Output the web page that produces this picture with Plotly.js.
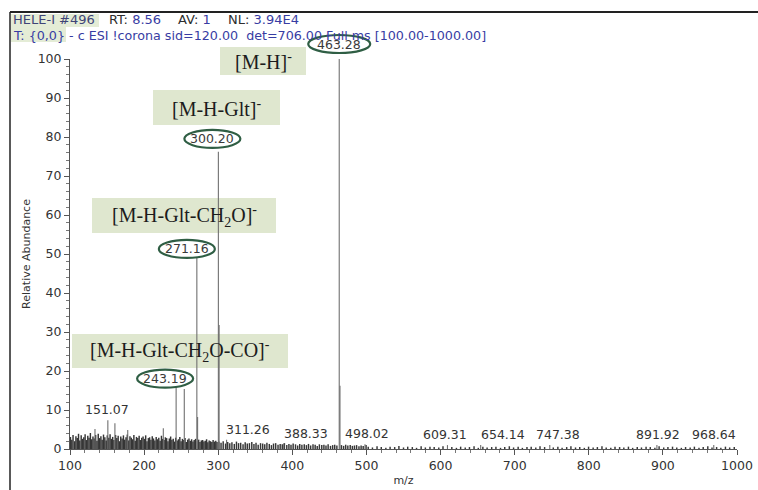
<!DOCTYPE html>
<html>
<head>
<meta charset="utf-8">
<script src="https://cdn.plot.ly/plotly-3.0.1.min.js"></script>
<style>
  html, body { margin: 0; padding: 0; background: #ffffff; }
  #chart { width: 758px; height: 490px; }
</style>
</head>
<body>
<div id="chart"></div>
<script>
// ---- Spectrum data (m/z, relative abundance %) ----
// baseline noise, low-mass region
const noiseMzLow = [
  100.6,102.4,104.1,106.3,108.0,109.8,111.5,113.2,115.1,116.9,
  118.6,120.4,122.2,124.0,125.7,127.5,129.3,131.0,132.8,134.6,
  136.4,138.1,139.9,141.7,143.4,145.2,147.0,148.8,150.3,152.3,
  154.1,155.8,157.6,159.3,161.5,163.2,165.0,166.8,168.5,170.3,
  172.1,173.8,175.6,177.3,179.1,180.9,182.7,184.4,186.2,188.0,
  189.7,191.5,193.3,195.0,196.8,198.6,200.4,202.1,203.9,205.7,
  207.4,209.2,211.0,212.7,214.5,216.3,218.1,219.8,221.6,223.4,
  225.1,226.9,228.7,230.4,232.2,234.0,235.8,237.5,239.3,241.1,
  242.6,244.6,246.4,248.2,249.9,251.7,253.5,255.2,257.0,258.8,
  260.5,262.3,264.1,265.9,267.6,269.4,271.9,273.6,275.4,277.2,
  279.0,280.7,282.5,284.3,286.0,287.8,289.6,291.4,293.1,294.9,
  296.7,298.4
];
const noiseAbLow = [
  3.1,2.4,3.6,2.0,3.3,2.8,3.9,2.2,3.5,2.6,
  3.0,3.8,2.3,3.4,2.9,4.1,2.5,3.2,2.7,3.6,
  2.1,3.9,2.8,3.3,2.4,3.7,3.0,2.2,3.5,2.9,
  3.8,2.6,3.1,2.3,3.6,2.8,3.4,2.0,3.2,2.7,
  3.5,2.4,3.0,3.7,2.2,3.3,2.9,2.5,3.6,2.1,
  3.1,2.8,3.4,2.3,2.9,3.2,2.6,3.5,2.0,2.8,
  3.0,2.4,3.3,2.7,2.2,3.1,2.5,2.9,2.1,3.4,
  2.6,2.3,3.0,2.8,2.0,2.7,3.2,2.4,2.6,1.9,
  2.9,2.2,2.5,3.1,2.0,2.6,2.3,2.8,1.8,2.4,
  2.7,2.1,2.5,1.9,2.3,2.6,2.0,2.4,1.8,2.2,
  2.3,1.9,2.1,2.5,1.7,2.2,2.0,1.8,2.3,1.9,
  2.1,1.8
];
// baseline noise, mid-mass region
const noiseMzMid = [
  300.9,303.8,306.7,309.9,312.8,315.6,318.5,321.7,324.6,327.4,
  330.3,333.5,336.4,339.2,342.1,345.3,348.2,351.0,353.9,357.1,
  360.0,362.8,365.7,368.9,371.8,374.6,377.5,380.7,383.6,386.4,
  389.3,392.5,395.4,398.2,401.1,404.3,407.2,410.0,412.9,416.1,
  419.0,421.8,424.7,427.9,430.8,433.6,436.5,439.7,442.6,445.4,
  448.3,451.5,454.4,457.2,460.1,466.3,469.2,472.0,474.9,478.1,
  481.0,483.8,486.7,489.9,492.8,495.6,499.5
];
const noiseAbMid = [
  1.9,1.6,2.0,1.4,1.8,1.5,1.7,1.3,1.9,1.5,
  1.6,1.2,1.7,1.4,1.5,1.8,1.3,1.6,1.1,1.5,
  1.4,1.2,1.6,1.3,1.0,1.4,1.5,1.1,1.3,1.2,
  1.5,1.0,1.3,1.1,1.4,1.2,0.9,1.3,1.1,1.2,
  1.0,1.3,0.9,1.2,1.1,0.8,1.2,1.0,1.1,0.9,
  1.2,0.8,1.0,1.1,0.9,1.0,0.8,1.1,0.9,1.0,
  0.8,0.9,1.0,0.7,0.9,0.8,1.0
];
// baseline noise, high-mass region
const noiseMzHigh = [
  502.4,508.1,514.3,520.0,526.2,531.9,538.1,543.8,550.0,555.7,
  561.9,567.6,573.8,579.5,585.7,591.4,597.6,603.3,615.2,621.4,
  627.1,633.3,639.0,645.2,650.9,657.1,662.8,669.0,674.7,680.9,
  686.6,692.8,698.5,704.7,710.4,716.6,722.3,728.5,734.2,740.4,
  752.1,758.3,764.0,770.2,775.9,782.1,787.8,794.0,799.7,805.9,
  811.6,817.8,823.5,829.7,835.4,841.6,847.3,853.5,859.2,865.4,
  871.1,877.3,883.0,889.2,894.9,901.1,906.8,913.0,918.7,924.9,
  930.6,936.8,942.5,948.7,954.4,960.6,966.3,972.5,978.2,984.4,
  990.1,996.3
];
const noiseAbHigh = [
  0.6,0.4,0.7,0.5,0.3,0.6,0.5,0.8,0.4,0.6,
  0.5,0.3,0.7,0.4,0.6,0.5,0.4,0.7,0.5,0.3,
  0.6,0.4,0.5,0.7,0.3,0.6,0.4,0.5,0.6,0.3,
  0.5,0.7,0.4,0.6,0.3,0.5,0.6,0.4,0.7,0.5,
  0.4,0.6,0.3,0.5,0.7,0.4,0.5,0.3,0.6,0.4,
  0.5,0.7,0.4,0.3,0.6,0.5,0.4,0.6,0.3,0.5,
  0.4,0.6,0.5,0.3,0.7,0.4,0.5,0.6,0.4,0.3,
  0.5,0.4,0.6,0.3,0.5,0.7,0.4,0.5,0.3,0.6,
  0.4,0.5
];
// distinct peaks
const peakMz = [133.7, 151.07, 160.6, 177.9, 225.9, 243.19, 254.2, 271.16, 272.16,
                300.20, 301.20, 311.26, 388.33, 463.28, 464.28, 498.02, 609.31,
                654.14, 747.38, 891.92, 968.64];
const peakAb = [5.1, 7.4, 6.6, 4.9, 5.3, 16.0, 15.4, 49.0, 8.2,
                76.2, 31.8, 2.4, 1.4, 100, 16.2, 1.2, 1.0,
                1.0, 1.0, 1.0, 1.0];
// peaks carrying a plain m/z label
const labelledMz = [151.07, 311.26, 388.33, 498.02, 609.31, 654.14, 747.38, 891.92, 968.64];
// circled fragment ions and their assignments
const ionMz = [463.28, 300.20, 271.16, 243.19];
const ionNames = [
  '[M-H]<sup>-</sup>',
  '[M-H-Glt]<sup>-</sup>',
  '[M-H-Glt-CH<sub>2</sub>O]<sup>-</sup>',
  '[M-H-Glt-CH<sub>2</sub>O-CO]<sup>-</sup>'
];
// scan header
const headerKeys = ['RT:', 'AV:', 'NL:'];
const headerValues = ['8.56', '1', '3.94E4'];
const headerScan = 'HELE-I #496';
const headerLine2 = 'T: {0,0} - c ESI !corona sid=120.00  det=706.00 Full ms [100.00-1000.00]';

// ---- geometry helpers (plot area: left 70, top 59, 667 x 390 px) ----
const W = 758, H = 490;
const M = { l: 70, r: 21, t: 59, b: 41 };
const PW = W - M.l - M.r, PH = H - M.t - M.b;
const YMAX = 100;
const px = x => (x - M.l) / PW;
const py = y => (H - M.b - y) / PH;
const abOf = mz => peakAb[peakMz.indexOf(mz)];

function sticks(mz, ab) {
  const xs = [], ys = [];
  for (let i = 0; i < mz.length; i++) {
    xs.push(mz[i], mz[i], null);
    ys.push(0, ab[i], null);
  }
  return { xs, ys };
}

const noise = sticks(noiseMzLow.concat(noiseMzMid, noiseMzHigh),
                     noiseAbLow.concat(noiseAbMid, noiseAbHigh));
const peaks = sticks(peakMz, peakAb);

const traces = [
  { type: 'scatter', mode: 'lines', x: noise.xs, y: noise.ys, hoverinfo: 'skip',
    line: { color: '#363636', width: 1.45 }, showlegend: false, cliponaxis: false },
  { type: 'scatter', mode: 'lines', x: peaks.xs, y: peaks.ys, hoverinfo: 'skip',
    line: { color: '#707070', width: 1.1 }, showlegend: false, cliponaxis: false }
];

const sans = 'DejaVu Sans, Verdana, sans-serif';
const serif = 'Liberation Serif, Times New Roman, serif';

const shapes = [];
const annotations = [];

// outer frame (left and top edges)
shapes.push({ type: 'line', xref: 'paper', yref: 'paper', x0: px(10), x1: px(10), y0: py(12), y1: py(H + 2),
              line: { color: '#222', width: 1.5 }, layer: 'above' });
shapes.push({ type: 'line', xref: 'paper', yref: 'paper', x0: px(10), x1: px(W + 2), y0: py(12), y1: py(12),
              line: { color: '#222', width: 2 }, layer: 'above' });

// header highlight
shapes.push({ type: 'rect', xref: 'paper', yref: 'paper', x0: px(11), x1: px(99), y0: py(27), y1: py(14),
              fillcolor: '#e4ecd6', line: { width: 0 }, layer: 'below' });
shapes.push({ type: 'rect', xref: 'paper', yref: 'paper', x0: px(11), x1: px(66), y0: py(42), y1: py(27),
              fillcolor: '#e4ecd6', line: { width: 0 }, layer: 'below' });

// header text
const blue = '#373ca3';
const headerFont = { family: sans, size: 13, color: '#2e2e2e' };
annotations.push({
  xref: 'paper', yref: 'paper', x: px(11), y: py(20), xanchor: 'left', yanchor: 'middle', showarrow: false,
  font: Object.assign({}, headerFont, { color: '#3f4477' }), text: headerScan
});
const headerX = [107, 176, 226];
headerKeys.forEach((k, i) => {
  annotations.push({
    xref: 'paper', yref: 'paper', x: px(headerX[i]), y: py(20), xanchor: 'left', yanchor: 'middle',
    showarrow: false, font: headerFont,
    text: k + '\u00a0<span style="color:' + blue + '">' + headerValues[i] + '</span>'
  });
});
annotations.push({
  xref: 'paper', yref: 'paper', x: px(11), y: py(35), xanchor: 'left', yanchor: 'middle', showarrow: false,
  font: { family: sans, size: 12.7, color: blue },
  text: headerLine2.replace(/  /g, '\u00a0\u00a0')
});

// plain m/z labels above small peaks (horizontal offset in px)
const labelShift = { '151.07': -1, '311.26': 21, '388.33': 22, '498.02': 2, '609.31': -2,
                     '654.14': 22, '747.38': 8, '891.92': 1, '968.64': 0 };
labelledMz.forEach(mz => {
  const key = mz.toFixed(2);
  annotations.push({
    xref: 'x', yref: 'y', x: mz, y: abOf(mz), xanchor: 'center', yanchor: 'bottom',
    xshift: labelShift[key], yshift: 1, showarrow: false, text: key,
    font: { family: sans, size: 12.5, color: '#333' }
  });
});

// circled ion labels: [dx, dy, rx, ry] in px relative to the peak top
const ring = [[0, 15, 31, 9], [-6, 13, 28, 9], [-10, 9, 28, 9], [-11, 8, 28, 9]];
ionMz.forEach((mz, i) => {
  const [dx, dy, rx, ry] = ring[i];
  const ab = abOf(mz);
  shapes.push({
    type: 'circle', xref: 'x', xsizemode: 'pixel', xanchor: mz, x0: dx - rx, x1: dx + rx,
    yref: 'paper', ysizemode: 'pixel', yanchor: ab / YMAX, y0: dy - ry, y1: dy + ry,
    line: { color: '#2f5e44', width: 2.2 }, fillcolor: 'rgba(0,0,0,0)', layer: 'above'
  });
  annotations.push({
    xref: 'x', yref: 'y', x: mz, y: ab, xshift: dx, yshift: dy, xanchor: 'center', yanchor: 'middle',
    showarrow: false, text: mz.toFixed(2), font: { family: sans, size: 12.5, color: '#3a3a3a' }
  });
});

// ion assignment boxes: [x0, y0, x1, y1] in px
const boxes = [[220, 47, 306, 75], [153, 90, 280, 125], [92, 198, 276, 233], [72, 334, 288, 368]];
ionNames.forEach((name, i) => {
  const [x0, y0, x1, y1] = boxes[i];
  shapes.push({ type: 'rect', xref: 'paper', yref: 'paper', x0: px(x0), x1: px(x1), y0: py(y1), y1: py(y0),
                fillcolor: '#dfe7cf', line: { width: 0 }, layer: 'below' });
  annotations.push({
    xref: 'paper', yref: 'paper', x: px((x0 + x1) / 2), y: py((y0 + y1) / 2), xanchor: 'center', yanchor: 'middle',
    showarrow: false, text: name, font: { family: serif, size: 20, color: '#1c1c1c' }
  });
});

const layout = {
  width: W, height: H,
  margin: M,
  paper_bgcolor: '#ffffff', plot_bgcolor: '#ffffff',
  showlegend: false,
  xaxis: {
    range: [100, 1000], tickvals: [100, 200, 300, 400, 500, 600, 700, 800, 900, 1000],
    showgrid: false, zeroline: false, showline: true, linecolor: '#555', linewidth: 1,
    ticks: 'outside', ticklen: 5, tickcolor: '#555', tickwidth: 1,
    minor: { dtick: 20, tick0: 100, ticks: 'outside', ticklen: 3, tickcolor: '#777', showgrid: false },
    tickfont: { family: sans, size: 12.5, color: '#333' },
    title: { text: 'm/z', font: { family: sans, size: 11, color: '#333' }, standoff: 4 },
    fixedrange: true
  },
  yaxis: {
    range: [0, YMAX], tickvals: [0, 10, 20, 30, 40, 50, 60, 70, 80, 90, 100],
    showgrid: false, zeroline: false, showline: true, linecolor: '#555', linewidth: 1,
    ticks: 'outside', ticklen: 5, tickcolor: '#555', tickwidth: 1,
    minor: { dtick: 2, ticks: 'outside', ticklen: 3, tickcolor: '#777', showgrid: false },
    tickfont: { family: sans, size: 12.5, color: '#333' },
    title: { text: 'Relative Abundance', font: { family: sans, size: 11, color: '#333' }, standoff: 4 },
    fixedrange: true
  },
  shapes: shapes,
  annotations: annotations
};

Plotly.newPlot('chart', traces, layout, { displayModeBar: false, staticPlot: true });
</script>
</body>
</html>
